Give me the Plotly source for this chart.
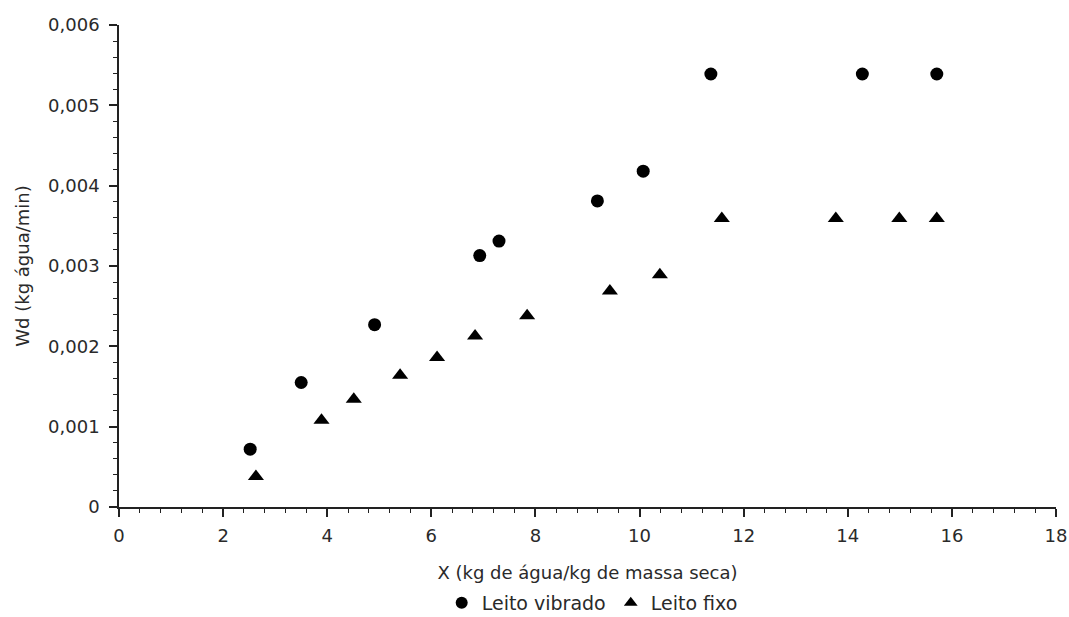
import plotly.graph_objects as go

vibrado_x = [2.52, 3.50, 4.91, 6.93, 7.30, 9.19, 10.07, 11.37, 14.28, 15.71]
vibrado_y = [0.00072, 0.00155, 0.00227, 0.00313, 0.00331, 0.00381, 0.00418, 0.00539, 0.00539, 0.00539]
fixo_x = [2.63, 3.89, 4.51, 5.40, 6.11, 6.84, 7.84, 9.43, 10.39, 11.58, 13.77, 14.99, 15.71]
fixo_y = [0.00038, 0.00108, 0.00134, 0.00164, 0.00186, 0.00213, 0.00238, 0.00269, 0.00289, 0.00359, 0.00359, 0.00359, 0.00359]

y_tickvals = [0, 0.001, 0.002, 0.003, 0.004, 0.005, 0.006]
y_ticktext = ["0", "0,001", "0,002", "0,003", "0,004", "0,005", "0,006"]

font = dict(family="DejaVu Sans, Liberation Sans, sans-serif", size=18, color="#2a2a2a")
legend_font = dict(family="DejaVu Sans, Liberation Sans, sans-serif", size=19, color="#2a2a2a")

fig = go.Figure()
fig.add_trace(go.Scatter(x=vibrado_x, y=vibrado_y, mode="markers", name="Leito vibrado",
                         marker=dict(symbol="circle", size=13, color="black")))
fig.add_trace(go.Scatter(x=fixo_x, y=fixo_y, mode="markers", name="Leito fixo",
                         marker=dict(symbol="triangle-up", size=14, color="black")))

axis_common = dict(showline=True, linecolor="#222", linewidth=1.5, ticks="outside",
                   tickcolor="#222", ticklen=8, tickwidth=1.5, showgrid=False, zeroline=False,
                   tickfont=font, mirror=False)

fig.update_xaxes(range=[0, 18], dtick=2, tick0=0,
                 minor=dict(ticks="outside", dtick=0.4, ticklen=4, tickcolor="#222", tickwidth=1.2, showgrid=False),
                 ticklabelstandoff=4,
                 title=dict(text="X (kg de água/kg de massa seca)", font=font, standoff=21),
                 **axis_common)
fig.update_yaxes(range=[0, 0.006], tickvals=y_tickvals, ticktext=y_ticktext,
                 minor=dict(ticks="outside", dtick=0.0002, ticklen=4, tickcolor="#222", tickwidth=1.2, showgrid=False),
                 ticklabelstandoff=6,
                 title=dict(text="Wd (kg água/min)", font=font, standoff=14),
                 **axis_common)

fig.update_layout(
    width=1069, height=617,
    margin=dict(l=119, r=13, t=25, b=110, autoexpand=False),
    plot_bgcolor="white", paper_bgcolor="white",
    font=font,
    showlegend=True,
    legend=dict(orientation="h", x=0.505, xanchor="center", y=-0.199, yanchor="middle",
                font=legend_font, tracegroupgap=0, itemsizing="constant"),
)

# remove the default 8px page margin so the figure fills the window exactly
fig.write_html("out.html",
               config={"displayModeBar": False},
               post_script="document.body.style.margin='0';document.body.style.overflow='hidden';")
